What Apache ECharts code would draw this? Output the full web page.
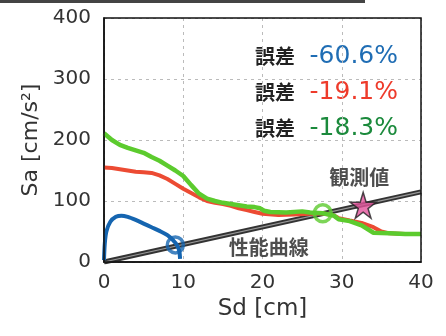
<!DOCTYPE html>
<html><head><meta charset="utf-8">
<script src="https://cdn.jsdelivr.net/npm/echarts@6/dist/echarts.min.js"></script>
<style>html,body{margin:0;padding:0;background:#fff}#c{width:446px;height:336px}</style>
</head><body><div id="c"></div>
<script>
var xTicks = [0, 10, 20, 30, 40];
var yTicks = [0, 100, 200, 300, 400];
var perfLine = [[0, 0], [40, 115]];
var redCurve = [[0,155],[1,154],[2,152],[3,150],[4,148],[5,147],[6,146],[7,142],[8,136],[9,128],[10,120],[11,113],[12,106],[13,100],[14,97],[15,95],[16,92],[17,88],[18,85],[19,82],[20,79],[22,77],[24,78],[26,79],[27.6,80],[29,76],[29.6,72],[31,68],[32.5,64],[34,57],[35,50],[36,47],[38,46],[40,46]];
var greenCurve = [[0,211],[1,200],[2,192],[3,187],[4,183],[5,179],[6,172],[7,166],[8,158],[9,150],[10,141],[11,126],[12,112],[13,104],[14,100],[15,97],[16,95],[17,93],[18,91],[19,90],[19.7,88],[20.2,84],[21,82],[23,81],[25,83],[26,81],[27.6,80],[29,76],[29.6,70],[31,67],[32.5,60],[33.5,52],[34,48],[36,47],[38,46],[40,46]];
var blueCurve = [[0,3],[0.1,30],[0.3,50],[0.8,66],[1.5,74],[2.2,76],[3,74],[4,69],[5,63],[6,57],[7,51],[8,44],[8.7,36],[9.2,28],[9.5,18],[9.6,5]];
var blueMark = [[9, 28]];
var greenMark = [[27.6, 80]];
var observed = [[32.7, 93]];
var errorLabels = ['誤差', '誤差', '誤差'];
var errorValues = ['-60.6%', '-19.1%', '-18.3%'];
var errorColors = ['#1f6db4', '#ee3b2b', '#1b8a3c'];

var star = 'path://M50,0 L61,35 L98,35 L68,57 L79,91 L50,70 L21,91 L32,57 L2,35 L39,35 Z';
var numFont = 'DejaVu Sans';
var jpFont = 'Noto Sans CJK JP';

var chart = echarts.init(document.getElementById('c'));
var graphics = [
  {type:'rect', shape:{x:0,y:0,width:365,height:3}, style:{fill:'#444'}}
];
errorValues.forEach(function(v, i){
  var cy = 56 + i * 36;
  graphics.push({
    type:'text', x:295, y:cy,
    style:{text:errorLabels[i], fontFamily:jpFont, fontSize:20, fontWeight:'bold', fill:'#222',
      textAlign:'right', textVerticalAlign:'middle'}
  });
  graphics.push({
    type:'text', x:398, y:cy,
    style:{text:v, fontFamily:numFont, fontSize:25, fill:errorColors[i],
      textAlign:'right', textVerticalAlign:'middle'}
  });
});

chart.setOption({
  animation:false,
  grid:{left:104, right:25, top:18, bottom:74},
  xAxis:{
    type:'value', min:0, max:40, interval:10,
    name:'Sd [cm]', nameLocation:'middle', nameGap:36,
    nameTextStyle:{fontFamily:numFont, fontSize:23, color:'#333'},
    axisLine:{show:true, onZero:false, lineStyle:{color:'#111', width:1.5}},
    axisTick:{show:false},
    axisLabel:{fontFamily:numFont, fontSize:20, color:'#333', margin:11,
      formatter:function(v){return xTicks.indexOf(v)>=0?String(v):'';}},
    splitLine:{show:true, lineStyle:{color:'#bbb', type:[3,4], width:1}}
  },
  yAxis:{
    type:'value', min:0, max:400, interval:100,
    name:'Sa [cm/s²]', nameLocation:'middle', nameGap:62, nameRotate:90,
    nameTextStyle:{fontFamily:numFont, fontSize:22, color:'#333'},
    axisLine:{show:true, onZero:false, lineStyle:{color:'#111', width:1.5}},
    axisTick:{show:false},
    axisLabel:{fontFamily:numFont, fontSize:20, color:'#333', margin:13,
      formatter:function(v){return yTicks.indexOf(v)>=0?String(v):'';}},
    splitLine:{show:true, lineStyle:{color:'#bbb', type:[3,4], width:1}}
  },
  graphic: graphics.concat([
    {type:'rect', shape:{x:104,y:18,width:317,height:244}, style:{fill:'none', stroke:'#111', lineWidth:1.5}, silent:true, z:100}
  ]),
  series:[
    {type:'line', data:perfLine, showSymbol:false, lineStyle:{color:'#333', width:5}, z:2},
    {type:'line', data:perfLine, showSymbol:false, lineStyle:{color:'#999', width:1.2}, z:3},
    {type:'line', data:redCurve, showSymbol:false, lineStyle:{color:'#ec4b33', width:4}, z:4},
    {type:'line', data:greenCurve, showSymbol:false, lineStyle:{color:'#5ccb2e', width:4.5}, z:5},
    {type:'line', data:blueCurve, showSymbol:false, smooth:0.3, lineStyle:{color:'#1565b0', width:4}, z:6},
    {type:'scatter', data:blueMark, symbol:'circle', symbolSize:16, itemStyle:{color:'rgba(0,0,0,0)', borderColor:'#1565b0', borderWidth:3.5}, z:7},
    {type:'scatter', data:greenMark, symbol:'circle', symbolSize:17, itemStyle:{color:'rgba(0,0,0,0)', borderColor:'#5ccb2e', borderWidth:3.5}, z:7},
    {type:'scatter', data:observed, symbol:star, symbolSize:26, itemStyle:{color:'#e2529b', borderColor:'#222', borderWidth:1.5}, z:8},
    {type:'scatter', data:[[20.8, 24.6]], symbolSize:0, silent:true,
      label:{show:true, position:'inside', formatter:'性能曲線', fontFamily:jpFont, fontSize:20, fontWeight:'bold', color:'#222'}, z:9},
    {type:'scatter', data:[[32.2, 139]], symbolSize:0, silent:true,
      label:{show:true, position:'inside', formatter:'観測値', fontFamily:jpFont, fontSize:20, fontWeight:'bold', color:'#222'}, z:9}
  ]
});
</script></body></html>
